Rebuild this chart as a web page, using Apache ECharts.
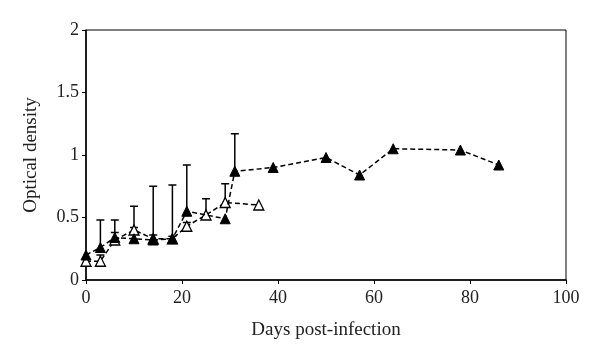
<!DOCTYPE html>
<html>
<head>
<meta charset="utf-8">
<script src="https://cdn.jsdelivr.net/npm/echarts@6/dist/echarts.min.js"></script>
<style>html,body{margin:0;padding:0;background:#fff}#c{width:600px;height:362px}</style>
</head>
<body>
<div id="c"></div>
<script>
var filledDays = [0, 3, 6, 10, 14, 18, 21, 29, 31, 39, 50, 57, 64, 78, 86];
var filledValues = [0.20, 0.26, 0.34, 0.33, 0.32, 0.33, 0.55, 0.49, 0.87, 0.90, 0.98, 0.84, 1.05, 1.04, 0.92];
var filledErrDays = [3, 6, 10, 14, 18, 21, 31];
var filledErrTops = [0.48, 0.48, 0.42, 0.75, 0.76, 0.92, 1.17];

var openDays = [0, 3, 6, 10, 14, 18, 21, 25, 29, 36];
var openValues = [0.15, 0.15, 0.32, 0.40, 0.33, 0.33, 0.43, 0.52, 0.62, 0.60];
var openErrDays = [3, 6, 10, 14, 18, 21, 25, 29];
var openErrTops = [0.20, 0.38, 0.59, 0.36, 0.35, 0.46, 0.65, 0.77];

function pairs(xs, ys){ return xs.map(function(x,i){return [x, ys[i]];}); }
function errData(days, tops, xs, ys){
  return days.map(function(d,i){
    var idx = xs.indexOf(d);
    return [d, ys[idx], tops[i]];
  });
}
function errItem(params, api){
  var p0 = api.coord([api.value(0), api.value(1)]);
  var p1 = api.coord([api.value(0), api.value(2)]);
  var w = 4;
  var st = {stroke:'#000', lineWidth:1.5};
  return {type:'group', children:[
    {type:'line', shape:{x1:p0[0], y1:p0[1], x2:p1[0], y2:p1[1]}, style:st},
    {type:'line', shape:{x1:p1[0]-w, y1:p1[1], x2:p1[0]+w, y2:p1[1]}, style:st}
  ]};
}
var font = 'Liberation Serif';
var chart = echarts.init(document.getElementById('c'), null, {renderer:'canvas'});
chart.setOption({
  animation:false,
  backgroundColor:'#fff',
  grid:{left:86, right:34, top:30, bottom:82, show:true, borderColor:'#000', borderWidth:1, backgroundColor:'transparent'},
  xAxis:{type:'value', min:0, max:100, interval:20,
    name:'Days post-infection', nameLocation:'middle', nameGap:41,
    nameTextStyle:{fontFamily:font, fontSize:19, color:'#222'},
    axisLine:{lineStyle:{color:'#000', width:1.5}},
    axisTick:{show:true, length:4, lineStyle:{color:'#000'}},
    axisLabel:{fontFamily:font, fontSize:18, color:'#222', margin:9},
    splitLine:{show:false}},
  yAxis:{type:'value', min:0, max:2, interval:0.5,
    name:'Optical density', nameLocation:'middle', nameGap:45,
    nameTextStyle:{fontFamily:font, fontSize:19, color:'#222'},
    axisLine:{show:true, lineStyle:{color:'#000', width:1.5}},
    axisTick:{show:true, length:4, lineStyle:{color:'#000'}},
    axisLabel:{fontFamily:font, fontSize:18, color:'#222', margin:7},
    splitLine:{show:false}},
  series:[
    {type:'custom', renderItem:errItem, data:errData(filledErrDays, filledErrTops, filledDays, filledValues), encode:{x:0, y:[1,2]}, z:1},
    {type:'custom', renderItem:errItem, data:errData(openErrDays, openErrTops, openDays, openValues), encode:{x:0, y:[1,2]}, z:1},
    {type:'line', data:pairs(openDays, openValues), symbol:'triangle', symbolSize:10,
      lineStyle:{color:'#000', width:1.5, type:[5,3]},
      itemStyle:{color:'#fff', borderColor:'#000', borderWidth:1.3}, z:3},
    {type:'line', data:pairs(filledDays, filledValues), symbol:'triangle', symbolSize:10,
      lineStyle:{color:'#000', width:1.5, type:[5,3]},
      itemStyle:{color:'#000', borderColor:'#000', borderWidth:1}, z:4}
  ]
});
</script>
</body>
</html>
